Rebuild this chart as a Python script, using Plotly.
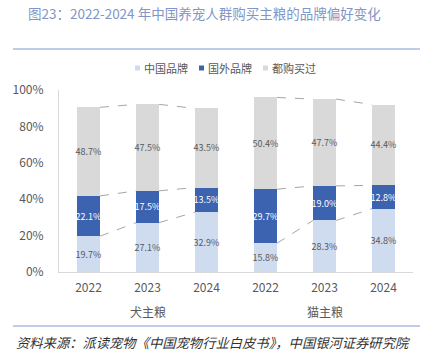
import plotly.graph_objects as go

years = ["2022", "2023", "2024", "2022", "2023", "2024"]
groups = ["犬主粮", "猫主粮"]
china = [19.7, 27.1, 32.9, 15.8, 28.3, 34.8]
foreign = [22.1, 17.5, 13.5, 29.7, 19.0, 12.8]
both = [48.7, 47.5, 43.5, 50.4, 47.7, 44.4]
series_names = ["中国品牌", "国外品牌", "都购买过"]
y_ticks = [0, 20, 40, 60, 80, 100]
y_tick_text = ["0%", "20%", "40%", "60%", "80%", "100%"]
colors = ["#cfdcf0", "#3c63b0", "#d9d9d9"]
text_colors = ["#595959", "#ffffff", "#595959"]

FONT = "Noto Sans CJK SC"
BW = 0.39
xs = list(range(len(years)))

# plot area in pixels
L, R, T, B = 59, 413, 90, 272
PW, PH = R - L, B - T


def px(x):
    return (x - L) / PW


def py(y):
    return (B - y) / PH


fig = go.Figure()
for name, vals, c, tc in zip(series_names, [china, foreign, both], colors, text_colors):
    fig.add_trace(go.Bar(
        x=xs, y=vals, name=name, marker=dict(color=c, line=dict(width=0)),
        width=BW, text=[f"{v:.1f}%" for v in vals], textposition="inside",
        insidetextanchor="middle", textangle=0, constraintext="none",
        textfont=dict(size=9, color=tc, family=FONT), hoverinfo="skip",
        showlegend=False,
    ))

# series lines (dashed) between adjacent bars in each group
cum1 = china
cum2 = [a + b for a, b in zip(china, foreign)]
cum3 = [a + b + c for a, b, c in zip(china, foreign, both)]
for g in range(2):
    for k in range(2):
        i = g * 3 + k
        for cum in (cum1, cum2, cum3):
            fig.add_trace(go.Scatter(
                x=[i + BW / 2, i + 1 - BW / 2], y=[cum[i], cum[i + 1]],
                mode="lines", line=dict(color="#a6a6a6", width=1, dash="dash"),
                showlegend=False, hoverinfo="skip",
            ))

# custom legend: small squares + labels
legend_x = [135, 199, 263]
shapes = [
    dict(type="line", xref="paper", yref="paper", x0=px(13), x1=px(420),
         y0=py(49), y1=py(49), line=dict(color="#7d9bd1", width=1.2)),
    dict(type="line", xref="paper", yref="paper", x0=px(13), x1=px(420),
         y0=py(326), y1=py(326), line=dict(color="#7d9bd1", width=1.2)),
]
annotations = []
for lx, name, c in zip(legend_x, series_names, colors):
    shapes.append(dict(type="rect", xref="paper", yref="paper", x0=px(lx), x1=px(lx + 5),
                       y0=py(70.5), y1=py(65.5), fillcolor=c, line=dict(width=0)))
    annotations.append(dict(text=name, xref="paper", yref="paper", x=px(lx + 7), y=py(68),
                            xanchor="left", yanchor="middle", showarrow=False,
                            font=dict(size=11, color="#595959", family=FONT)))

annotations += [
    dict(text="图23：2022-2024 年中国养宠人群购买主粮的品牌偏好变化", xref="paper", yref="paper",
         x=px(26), y=py(13), xanchor="left", yanchor="middle",
         showarrow=False, font=dict(size=13.5, color="#8096c8", family=FONT)),
    dict(text=groups[0], xref="x", yref="paper", x=1, y=py(311),
         xanchor="center", yanchor="middle", showarrow=False,
         font=dict(size=12, color="#595959")),
    dict(text=groups[1], xref="x", yref="paper", x=4, y=py(311),
         xanchor="center", yanchor="middle", showarrow=False,
         font=dict(size=12, color="#595959")),
    dict(text="资料来源：派读宠物《中国宠物行业白皮书》，中国银河证券研究院", xref="paper", yref="paper",
         x=px(14), y=py(342), xanchor="left", yanchor="middle",
         showarrow=False, font=dict(size=13.3, color="#333333", family=FONT, style="italic")),
]

fig.update_layout(
    barmode="stack",
    width=423, height=355,
    margin=dict(l=L, r=423 - R, t=T, b=355 - B),
    paper_bgcolor="white", plot_bgcolor="white",
    font=dict(family=FONT, color="#595959", size=12),
    showlegend=False,
    xaxis=dict(range=[-0.5, 5.5], tickmode="array", tickvals=xs, ticktext=years,
               showline=True, linecolor="#d9d9d9", linewidth=1, showgrid=False,
               ticks="", zeroline=False, ticklabelstandoff=5,
               tickfont=dict(size=12, color="#595959")),
    yaxis=dict(range=[0, 100], tickmode="array", tickvals=y_ticks, ticktext=y_tick_text,
               showline=True, linecolor="#d9d9d9", linewidth=1, showgrid=False,
               ticks="", zeroline=False, ticklabelstandoff=12,
               tickfont=dict(size=12, color="#595959")),
    annotations=annotations,
    shapes=shapes,
)

fig.write_html("out.html", config={"displayModeBar": False},
               post_script="document.body.style.margin='0';")
